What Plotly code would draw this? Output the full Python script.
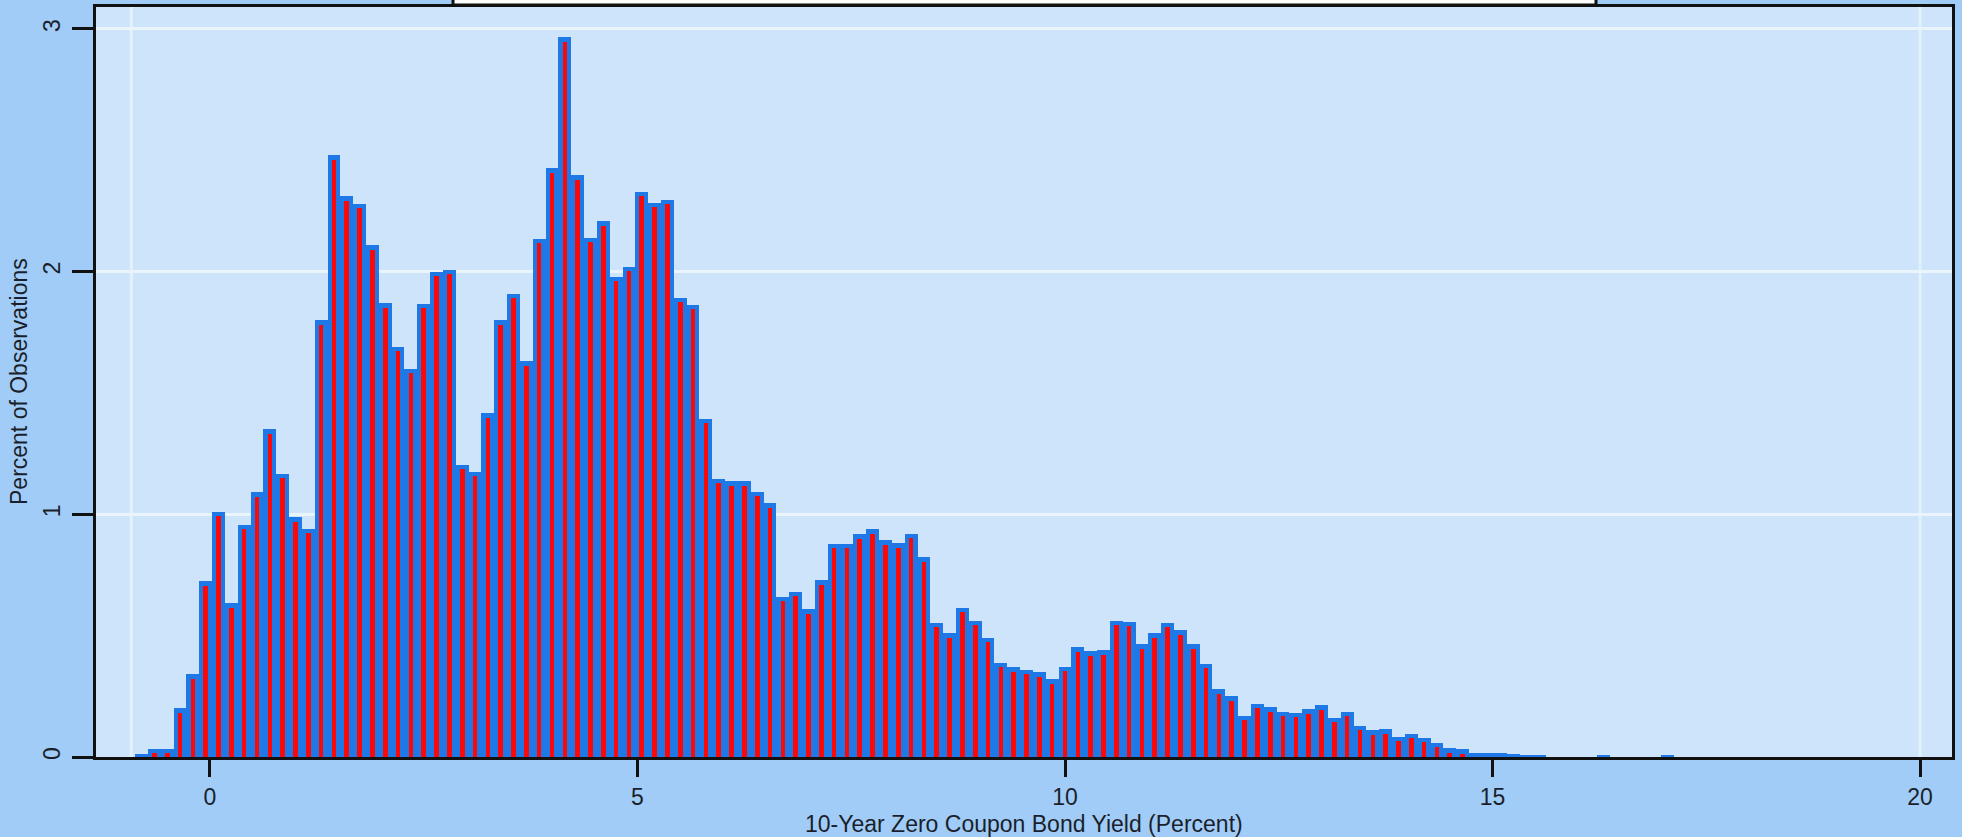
import plotly.graph_objects as go

# Histogram of 10-year zero coupon bond yields (percent of observations per bin)
bin_width = 0.15
first_bin_center = -0.8
percent = [
    0.014, 0.035, 0.035, 0.20, 0.34,
    0.725, 1.01, 0.633, 0.958, 1.09, 1.35, 1.167, 0.988, 0.94, 1.80,
    2.48, 2.31, 2.28, 2.108, 1.87, 1.69, 1.60, 1.867, 2.0, 2.008,
    1.205, 1.175, 1.417, 1.80, 1.91, 1.631, 2.136, 2.427, 2.965, 2.398,
    2.140, 2.208, 1.98, 2.02, 2.33, 2.285, 2.297, 1.893, 1.864, 1.394,
    1.146, 1.136, 1.136, 1.093, 1.045, 0.66, 0.68, 0.608, 0.728, 0.878,
    0.878, 0.918, 0.938, 0.893, 0.88, 0.92, 0.823, 0.554, 0.509, 0.616,
    0.562, 0.492, 0.388, 0.370, 0.360, 0.349, 0.321, 0.372, 0.453, 0.435,
    0.439, 0.561, 0.558, 0.464, 0.509, 0.554, 0.523, 0.464, 0.384, 0.279,
    0.251, 0.17, 0.22, 0.205, 0.187, 0.183, 0.196, 0.214, 0.162, 0.187,
    0.128, 0.11, 0.114, 0.084, 0.096, 0.08, 0.059, 0.036, 0.032, 0.018,
    0.018, 0.018, 0.011, 0.008, 0.007, 0.0, 0.0, 0.0, 0.0, 0.01,
    0.0, 0.0, 0.0, 0.0, 0.01,
]
bin_centers = [round(first_bin_center + bin_width * i, 3) for i in range(len(percent))]

x_ticks = [0, 5, 10, 15, 20]
y_ticks = [0, 1, 2, 3]
x_title = "10-Year Zero Coupon Bond Yield (Percent)"
y_title = "Percent of Observations"

W, H = 1962, 837
L, R, T, B = 96, 10, 7, 80
PW, PH = W - L - R, H - T - B
Y_MAX = 3.0906
px_per_y = PH / Y_MAX

BLUE = "#1e79e6"
RED = "#fc0808"

# thick blue outline look: blue bar over the full bin, thin red core inside it
border_px = 4.5
core_top = [max(v - border_px / px_per_y, 0) for v in percent]

fig = go.Figure()
fig.add_trace(go.Bar(
    x=bin_centers, y=percent, width=bin_width,
    marker=dict(color=BLUE, line=dict(width=0)),
    hoverinfo="x+y",
))
fig.add_trace(go.Bar(
    x=bin_centers, y=core_top, width=bin_width * 0.36,
    marker=dict(color=RED, line=dict(width=0)),
    hoverinfo="skip",
))

font_main = "Liberation Sans, Arial, sans-serif"
FS = 23

fig.update_layout(
    width=W,
    height=H,
    margin=dict(l=L, r=R, t=T, b=B, autoexpand=False),
    paper_bgcolor="#a0ccf7",
    plot_bgcolor="#cde4fb",
    barmode="overlay",
    bargap=0,
    showlegend=False,
    font=dict(family=font_main, size=FS, color="#1b1f2b"),
    xaxis=dict(
        range=[-1.333, 20.374],
        tickvals=x_ticks,
        ticks="outside",
        ticklen=17,
        tickwidth=3,
        tickcolor="#111111",
        showline=True,
        linecolor="#111111",
        linewidth=3,
        mirror=True,
        showgrid=False,
        zeroline=False,
        automargin=False,
        tickfont=dict(size=FS),
    ),
    yaxis=dict(
        range=[0, Y_MAX],
        tickvals=y_ticks,
        ticks="outside",
        ticklen=21,
        tickwidth=3,
        tickcolor="#111111",
        tickangle=-90,
        ticklabelstandoff=3,
        showline=True,
        linecolor="#111111",
        linewidth=3,
        mirror=True,
        showgrid=True,
        gridcolor="#eaf5fb",
        gridwidth=3,
        zeroline=False,
        automargin=False,
        tickfont=dict(size=FS),
    ),
    annotations=[
        dict(
            text=x_title, xref="paper", yref="paper",
            x=0.5, y=-(824 - (H - B)) / PH,
            xanchor="center", yanchor="middle", showarrow=False,
            font=dict(size=FS),
        ),
        dict(
            text=y_title, xref="paper", yref="paper",
            x=-(L - 19) / PW, y=0.5, textangle=-90,
            xanchor="center", yanchor="middle", showarrow=False,
            font=dict(size=FS),
        ),
    ],
    shapes=[
        dict(type="line", xref="x", yref="paper", x0=-0.92, x1=-0.92, y0=0, y1=1,
             line=dict(color="#e3f1fc", width=3), layer="below"),
        dict(type="line", xref="x", yref="paper", x0=20, x1=20, y0=0, y1=1,
             line=dict(color="#e3f1fc", width=3), layer="below"),
        dict(type="rect", xref="paper", yref="paper",
             x0=(453 - L) / PW, x1=(1596 - L) / PW,
             y0=(H - B - 5) / PH, y1=(H - B + 30) / PH,
             fillcolor="#fffdf7", line=dict(color="#111111", width=3), layer="above"),
    ],
)

fig.write_html(
    "out.html",
    config={"displayModeBar": False},
    post_script="document.body.style.margin='0';document.body.style.overflow='hidden';",
)
